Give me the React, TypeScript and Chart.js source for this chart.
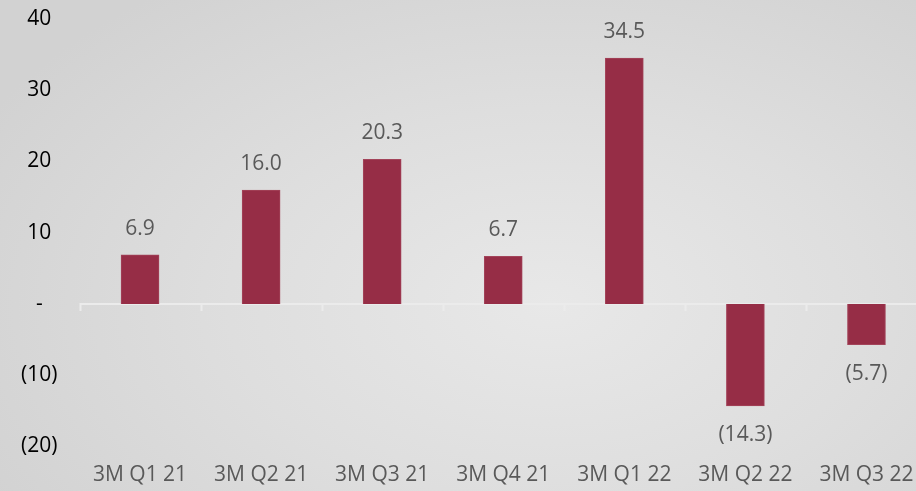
import React, { useEffect, useRef } from "react";
import { Chart, registerables } from "chart.js";

Chart.register(...registerables);

const categories = ["3M Q1 21", "3M Q2 21", "3M Q3 21", "3M Q4 21", "3M Q1 22", "3M Q2 22", "3M Q3 22"];
const values = [6.9, 16.0, 20.3, 6.7, 34.5, -14.3, -5.7];
const yMin = -20;
const yMax = 40;
const yStep = 10;

const FONT = "'Open Sans', sans-serif";

const fmtTick = (v: number) => (v === 0 ? "-" : v < 0 ? `(${-v})` : `${v}`);
const fmtLabel = (v: number) => (v < 0 ? `(${(-v).toFixed(1)})` : v.toFixed(1));

const decorPlugin = {
  id: "decor",
  beforeDatasetsDraw(chart: any) {
    const { ctx, chartArea, scales } = chart;
    const y0 = scales.y.getPixelForValue(0);
    const n = categories.length;
    const w = (chartArea.right - chartArea.left) / n;
    ctx.save();
    ctx.strokeStyle = "#ebebeb";
    ctx.lineWidth = 2;
    ctx.beginPath();
    ctx.moveTo(chartArea.left, y0);
    ctx.lineTo(chartArea.right, y0);
    for (let i = 0; i <= n; i++) {
      const x = Math.round(chartArea.left + i * w) + 0.5;
      ctx.moveTo(x, y0);
      ctx.lineTo(x, y0 + 7);
    }
    ctx.stroke();
    ctx.restore();
  },
  afterDatasetsDraw(chart: any) {
    const { ctx } = chart;
    const meta = chart.getDatasetMeta(0);
    ctx.save();
    ctx.font = `21px ${FONT}`;
    ctx.fillStyle = "#595959";
    ctx.textAlign = "center";
    ctx.textBaseline = "middle";
    meta.data.forEach((bar: any, i: number) => {
      const v = values[i];
      const y = v >= 0 ? bar.y - 26 : bar.y + 29;
      ctx.fillText(fmtLabel(v), bar.x, y);
    });
    ctx.restore();
  },
};

export default function App() {
  const ref = useRef<HTMLCanvasElement>(null);
  useEffect(() => {
    const chart = new Chart(ref.current as HTMLCanvasElement, {
      type: "bar",
      data: {
        labels: categories,
        datasets: [
          {
            data: values,
            backgroundColor: "#962d46",
            borderColor: "#a3445a",
            borderWidth: 1,
            barThickness: 38,
          },
        ],
      },
      options: {
        animation: false,
        responsive: false,
        devicePixelRatio: 1,
        layout: { padding: { top: 19, bottom: 4, left: 0, right: 0 } },
        plugins: { legend: { display: false }, tooltip: { enabled: false } },
        scales: {
          x: {
            grid: { display: false },
            border: { display: false },
            ticks: { color: "#595959", font: { family: FONT, size: 21 }, padding: 8, maxRotation: 0, autoSkip: false },
            afterFit: (s: any) => {
              s.height = 40.5;
            },
          },
          y: {
            min: yMin,
            max: yMax,
            grid: { display: false, drawTicks: false },
            border: { display: false },
            ticks: {
              stepSize: yStep,
              color: "#000000",
              font: { family: FONT, size: 21 },
              crossAlign: "center",
              padding: 22,
              callback: (v: any) => fmtTick(Number(v)),
            },
            afterFit: (s: any) => {
              s.width = 79.5;
              s.paddingTop = 0;
              s.paddingBottom = 0;
            },
          },
        },
      },
      plugins: [decorPlugin],
    });
    return () => chart.destroy();
  }, []);
  return (
    <div
      style={{
        position: "fixed",
        left: 0,
        top: 0,
        width: 916,
        height: 491,
        overflow: "hidden",
        background: "radial-gradient(ellipse 70% 80% at 60% 62%, #e8e8e8 0%, #dedede 50%, #d2d2d2 100%)",
      }}
    >
      <canvas ref={ref} width={927} height={491} style={{ display: "block" }} />
    </div>
  );
}
